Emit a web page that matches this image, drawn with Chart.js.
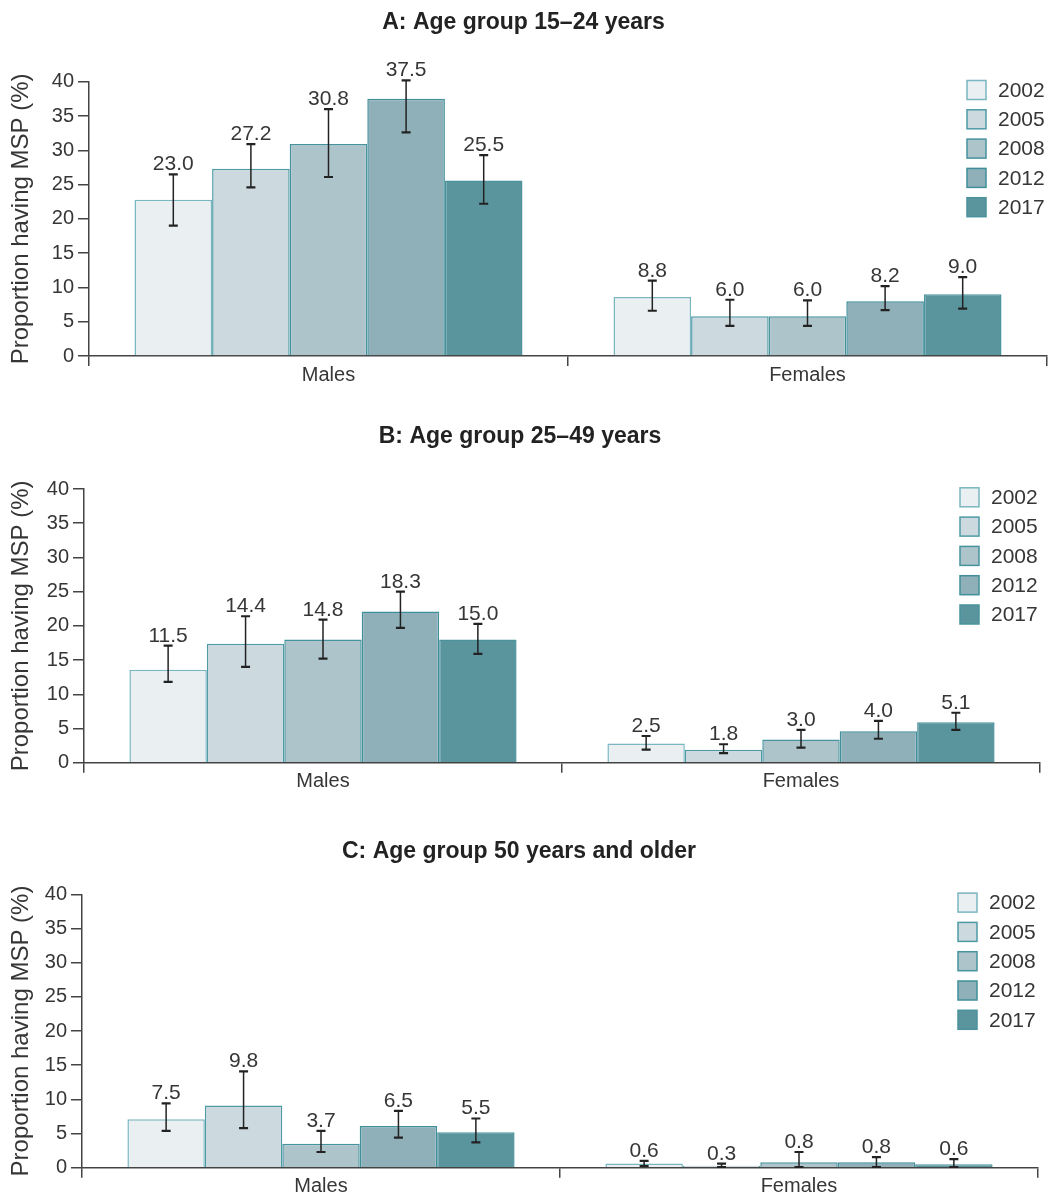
<!DOCTYPE html>
<html>
<head>
<meta charset="utf-8">
<script src="https://cdn.jsdelivr.net/npm/chart.js@4.4.0/dist/chart.umd.min.js"></script>
<style>
  body { margin: 0; background: #fff; }
  #wrap { position: relative; width: 1051px; height: 1196px; }
  .panel { position: absolute; left: 0; width: 1051px; }
</style>
</head>
<body>
<div id="wrap">
  <div class="panel" style="top:0;height:405px"><canvas id="chartA" width="1051" height="405"></canvas></div>
  <div class="panel" style="top:405px;height:415px"><canvas id="chartB" width="1051" height="415"></canvas></div>
  <div class="panel" style="top:820px;height:376px"><canvas id="chartC" width="1051" height="376"></canvas></div>
</div>
<script>
// Data
const categories = ['Males', 'Females'];
const years = ['2002', '2005', '2008', '2012', '2017'];

// A: 15-24 years (values by year)
const malesA = [22.8, 27.3, 30.9, 37.5, 25.6];
const malesALow = [19.0, 24.6, 26.1, 32.6, 22.2];
const malesAHigh = [26.5, 30.9, 36.0, 40.2, 29.3];
const malesALabels = ['23.0', '27.2', '30.8', '37.5', '25.5'];
const femalesA = [8.6, 5.8, 5.8, 8.0, 9.0];
const femalesALow = [6.6, 4.4, 4.4, 6.7, 6.9];
const femalesAHigh = [11.0, 8.2, 8.1, 10.2, 11.5];
const femalesALabels = ['8.8', '6.0', '6.0', '8.2', '9.0'];

// B: 25-49 years
const malesB = [13.6, 17.4, 18.0, 22.1, 18.0];
const malesBLow = [11.8, 14.0, 15.2, 19.7, 15.9];
const malesBHigh = [17.1, 21.4, 20.9, 25.0, 20.3];
const malesBLabels = ['11.5', '14.4', '14.8', '18.3', '15.0'];
const femalesB = [2.8, 1.9, 3.4, 4.6, 5.9];
const femalesBLow = [1.9, 1.4, 2.2, 3.5, 4.8];
const femalesBHigh = [3.9, 2.7, 4.8, 6.1, 7.3];
const femalesBLabels = ['2.5', '1.8', '3.0', '4.0', '5.1'];

// C: 50 years and older
const malesC = [7.1, 9.1, 3.5, 6.1, 5.2];
const malesCLow = [5.4, 5.8, 2.3, 4.4, 3.7];
const malesCHigh = [9.4, 14.1, 5.4, 8.3, 7.2];
const malesCLabels = ['7.5', '9.8', '3.7', '6.5', '5.5'];
const femalesC = [0.6, 0.3, 0.8, 0.8, 0.5];
const femalesCLow = [0.25, 0.1, 0.1, 0.1, 0.1];
const femalesCHigh = [1.0, 0.6, 2.3, 1.55, 1.25];
const femalesCLabels = ['0.6', '0.3', '0.8', '0.8', '0.6'];

const fillColors = ['#eaf0f2', '#ccd9de', '#adc4cb', '#8fb0b9', '#5a949d'];
const borderColors = ['#7ab6c0', '#4e9ba6', '#46939e', '#3f8f9a', '#4a939d'];
const textColor = '#363636';
const fontFamily = '"Liberation Sans", Arial, sans-serif';

// error bars + value labels over each bar
const errorBarsPlugin = {
    id: 'errorBars',
    afterDatasetsDraw(chart) {
        const ctx = chart.ctx;
        const yScale = chart.scales.y;
        chart.data.datasets.forEach((ds, i) => {
            const meta = chart.getDatasetMeta(i);
            meta.data.forEach((bar, j) => {
                const top = yScale.getPixelForValue(ds.errHigh[j]);
                const bottom = yScale.getPixelForValue(ds.errLow[j]);
                ctx.save();
                ctx.strokeStyle = '#222';
                ctx.lineWidth = 1.5;
                ctx.beginPath();
                ctx.moveTo(bar.x, top);
                ctx.lineTo(bar.x, bottom);
                ctx.stroke();
                ctx.lineWidth = 2.2;
                ctx.beginPath();
                ctx.moveTo(bar.x - 4.5, top);
                ctx.lineTo(bar.x + 4.5, top);
                ctx.moveTo(bar.x - 4.5, bottom);
                ctx.lineTo(bar.x + 4.5, bottom);
                ctx.stroke();
                ctx.fillStyle = textColor;
                ctx.font = '21px ' + fontFamily;
                ctx.textAlign = 'center';
                ctx.textBaseline = 'alphabetic';
                ctx.fillText(ds.valueLabels[j], bar.x, top - 4);
                ctx.restore();
            });
        });
    }
};

// legend in the top right corner of the plot
const cornerLegendPlugin = {
    id: 'cornerLegend',
    afterDraw(chart) {
        const ctx = chart.ctx;
        const area = chart.chartArea;
        chart.data.datasets.forEach((ds, i) => {
            const cy = area.top + 8.3 + i * 29.3;
            const bx = area.right - 80;
            ctx.save();
            ctx.fillStyle = ds.backgroundColor;
            ctx.fillRect(bx, cy - 9.5, 19, 19);
            ctx.strokeStyle = ds.borderColor;
            ctx.lineWidth = 1.5;
            ctx.strokeRect(bx, cy - 9.5, 19, 19);
            ctx.fillStyle = textColor;
            ctx.font = '21px ' + fontFamily;
            ctx.textAlign = 'left';
            ctx.textBaseline = 'middle';
            ctx.fillText(ds.label, bx + 31, cy + 1);
            ctx.restore();
        });
    }
};

function buildDatasets(males, females, mLow, fLow, mHigh, fHigh, mLabels, fLabels) {
    return years.map((year, i) => ({
        label: year,
        data: [males[i], females[i]],
        errLow: [mLow[i], fLow[i]],
        errHigh: [mHigh[i], fHigh[i]],
        valueLabels: [mLabels[i], fLabels[i]],
        backgroundColor: fillColors[i],
        borderColor: borderColors[i],
        borderWidth: 1.5,
        categoryPercentage: 0.81,
        barPercentage: 1.0
    }));
}

function makeChart(canvasId, titleText, datasets, layout) {
    const ctx = document.getElementById(canvasId).getContext('2d');
    return new Chart(ctx, {
        type: 'bar',
        data: {
            labels: categories,
            datasets: datasets
        },
        options: {
            responsive: false,
            animation: false,
            layout: {
                padding: {left: 0, right: layout.right, top: 0, bottom: layout.bottom}
            },
            plugins: {
                legend: {display: false},
                tooltip: {enabled: false},
                title: {
                    display: true,
                    text: titleText,
                    color: '#222',
                    font: {family: fontFamily, size: 23, weight: 'bold'},
                    padding: {top: layout.titleTop, bottom: layout.titleBottom}
                }
            },
            scales: {
                x: {
                    grid: {
                        offset: true,
                        drawOnChartArea: false,
                        tickLength: 10,
                        color: '#444',
                        lineWidth: 1.5
                    },
                    border: {display: true, color: '#444', width: 1.5},
                    ticks: {
                        color: textColor,
                        font: {family: fontFamily, size: 20},
                        padding: -3
                    },
                    afterFit: (scale) => { scale.height = 28; }
                },
                y: {
                    min: 0,
                    max: 40,
                    ticks: {
                        stepSize: 5,
                        color: textColor,
                        font: {family: fontFamily, size: 20},
                        padding: 4
                    },
                    grid: {
                        drawOnChartArea: false,
                        tickLength: 11,
                        color: '#444',
                        lineWidth: 1.5
                    },
                    border: {display: true, color: '#444', width: 1.5},
                    title: {
                        display: true,
                        text: 'Proportion having MSP (%)',
                        color: textColor,
                        font: {family: fontFamily, size: 24},
                        padding: {top: 7, bottom: 0}
                    },
                    afterFit: (scale) => { scale.width = layout.left; }
                }
            }
        },
        plugins: [errorBarsPlugin, cornerLegendPlugin]
    });
}

makeChart('chartA', 'A: Age group 15\u201324 years',
    buildDatasets(malesA, femalesA, malesALow, femalesALow, malesAHigh, femalesAHigh, malesALabels, femalesALabels),
    {left: 89, right: 4, titleTop: 8.7, titleBottom: 45.4, bottom: 405 - 356 - 28});

makeChart('chartB', 'B: Age group 25\u201349 years',
    buildDatasets(malesB, femalesB, malesBLow, femalesBLow, malesBHigh, femalesBHigh, malesBLabels, femalesBLabels),
    {left: 84, right: 11, titleTop: 18.2, titleBottom: 38.2, bottom: 415 - 357.7 - 28});

makeChart('chartC', 'C: Age group 50 years and older',
    buildDatasets(malesC, femalesC, malesCLow, femalesCLow, malesCHigh, femalesCHigh, malesCLabels, femalesCLabels),
    {left: 82, right: 13, titleTop: 18.2, titleBottom: 28.5, bottom: 376 - 347.7 - 28});
</script>
</body>
</html>
